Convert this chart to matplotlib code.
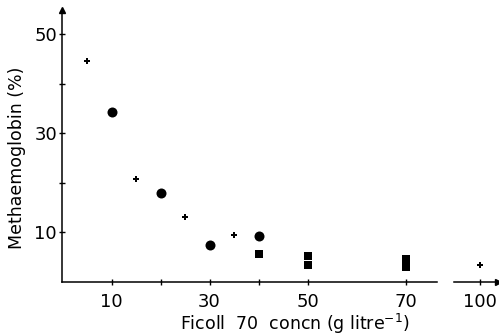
import numpy as np
import matplotlib
matplotlib.use('Agg')
import matplotlib.pyplot as plt

# Methaemoglobin (%) vs Ficoll 70 concentration
cross_x = [5, 15, 25, 35]
cross_y = [44.5, 20.7, 13.0, 9.3]
cross_far_x = [100]
cross_far_y = [3.3]

circle_x = [10, 20, 30, 40]
circle_y = [34.2, 17.8, 7.4, 9.1]

square_x = [40, 50, 50, 70, 70, 70]
square_y = [5.5, 5.2, 3.4, 4.5, 3.7, 3.0]

xticks_main = [10, 20, 30, 40, 50, 70]
xticklabels_main = ['10', '', '30', '', '50', '70']
xticks_far = [100]
yticks = [10, 20, 30, 40, 50]
yticklabels = ['10', '', '30', '', '50']

plt.rcParams['font.family'] = ['DejaVu Sans']
fig = plt.figure(figsize=(4.99, 3.35), dpi=100)

W, H = 499.0, 335.0
x0px, y0px = 62.5, 281.5
pxx, pxy = 4.9, 4.95
top_px = 10
right_main = 437
far_l, far_r = 454, 498

ymax = (y0px - top_px) / pxy
ax = fig.add_axes([x0px / W, (H - y0px) / H, (right_main - x0px) / W, (y0px - top_px) / H])
ax.set_xlim(0, (right_main - x0px) / pxx)
ax.set_ylim(0, ymax)

ax2 = fig.add_axes([far_l / W, (H - y0px) / H, (far_r - far_l) / W, (y0px - top_px) / H])
ax2.set_xlim(100 - (480 - far_l) / pxx, 100 + (far_r - 480) / pxx)
ax2.set_ylim(0, ymax)

for a in (ax, ax2):
    for s in ('top', 'right'):
        a.spines[s].set_visible(False)
    a.spines['bottom'].set_linewidth(1.1)
    a.spines['left'].set_linewidth(1.1)
    a.tick_params(direction='inout', length=4, width=1, labelsize=13, pad=6)
    a.patch.set_alpha(0)

ax2.spines['left'].set_visible(False)
ax2.set_yticks([])

ax.set_xticks(xticks_main)
ax.set_xticklabels(xticklabels_main)
ax.set_yticks(yticks)
ax.set_yticklabels(yticklabels)
ax.tick_params(axis='y', pad=2)
ax2.set_xticks(xticks_far)
ax2.set_xticklabels(['100'])

# axis arrows
ax.plot(0, 1, '^k', ms=4, transform=ax.get_xaxis_transform(), clip_on=False)
ax2.plot(1, 0, '>k', ms=4, transform=ax2.get_yaxis_transform(), clip_on=False)

ax.plot(cross_x, cross_y, 'P', color='black', ms=4.5, mew=0, clip_on=False)
ax2.plot(cross_far_x, cross_far_y, 'P', color='black', ms=4.5, mew=0, clip_on=False)
ax.plot(circle_x, circle_y, 'o', color='black', ms=7.2, mew=0)
ax.plot(square_x, square_y, 's', color='black', ms=6, mew=0)

ax.set_ylabel('Methaemoglobin (%)', fontsize=12.5)
ax.yaxis.set_label_coords(-0.097, 0.455)
fig.text(295 / W, (H - 324) / H, 'Ficoll  70  concn (g litre$^{-1}$)', fontsize=12.5,
         ha='center', va='center')

fig.savefig('out.png', dpi=100)
